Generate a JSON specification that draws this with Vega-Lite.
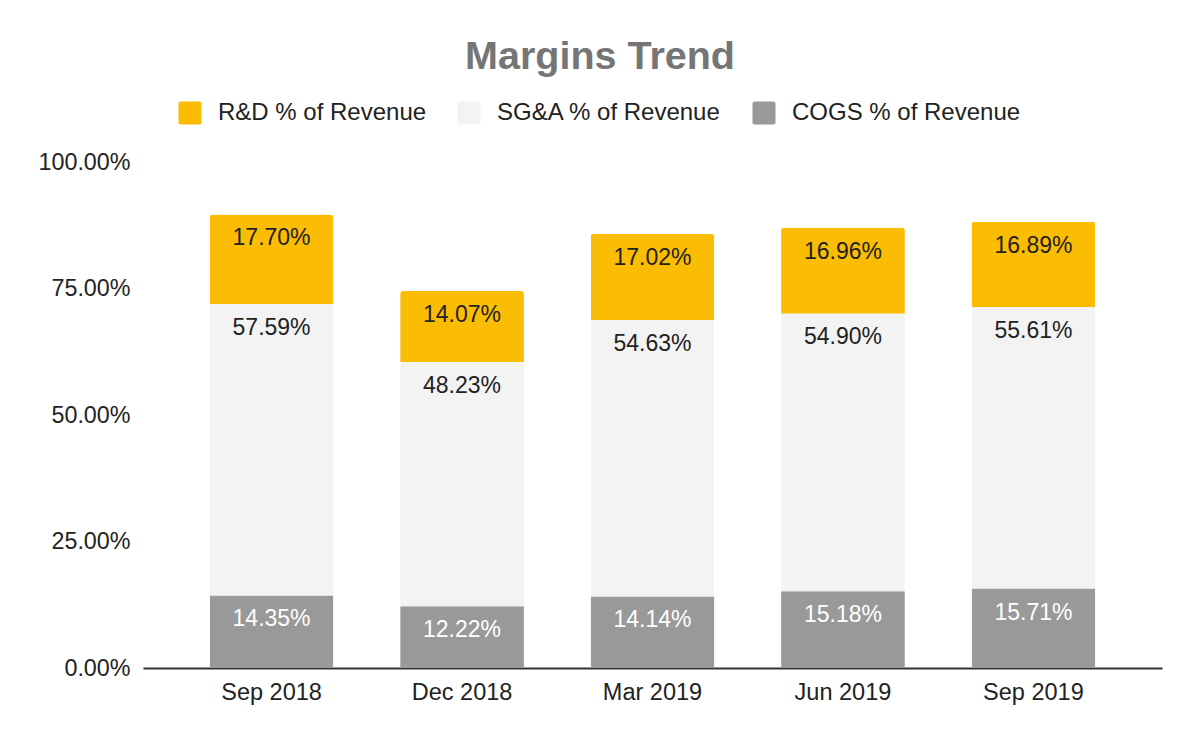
{
  "$schema": "https://vega.github.io/schema/vega-lite/v6.json",
  "width": 1019,
  "height": 506,
  "autosize": "none",
  "padding": {"left": 143, "top": 162, "right": 38, "bottom": 74},
  "background": "#ffffff",
  "title": {
    "text": "Margins Trend",
    "anchor": "middle",
    "frame": "bounds",
    "font": "Liberation Sans",
    "fontSize": 39.5,
    "fontWeight": "bold",
    "color": "#757575",
    "offset": 24
  },
  "data": {
    "values": [
      {"period": "Sep 2018", "series": "COGS % of Revenue", "value": 0.1435},
      {"period": "Sep 2018", "series": "SG&A % of Revenue", "value": 0.5759},
      {"period": "Sep 2018", "series": "R&D % of Revenue", "value": 0.1770},
      {"period": "Dec 2018", "series": "COGS % of Revenue", "value": 0.1222},
      {"period": "Dec 2018", "series": "SG&A % of Revenue", "value": 0.4823},
      {"period": "Dec 2018", "series": "R&D % of Revenue", "value": 0.1407},
      {"period": "Mar 2019", "series": "COGS % of Revenue", "value": 0.1414},
      {"period": "Mar 2019", "series": "SG&A % of Revenue", "value": 0.5463},
      {"period": "Mar 2019", "series": "R&D % of Revenue", "value": 0.1702},
      {"period": "Jun 2019", "series": "COGS % of Revenue", "value": 0.1518},
      {"period": "Jun 2019", "series": "SG&A % of Revenue", "value": 0.5490},
      {"period": "Jun 2019", "series": "R&D % of Revenue", "value": 0.1696},
      {"period": "Sep 2019", "series": "COGS % of Revenue", "value": 0.1571},
      {"period": "Sep 2019", "series": "SG&A % of Revenue", "value": 0.5561},
      {"period": "Sep 2019", "series": "R&D % of Revenue", "value": 0.1689}
    ]
  },
  "transform": [
    {"calculate": "indexof(['COGS % of Revenue','SG&A % of Revenue','R&D % of Revenue'], datum.series)", "as": "stackOrder"}
  ],
  "encoding": {
    "x": {
      "field": "period",
      "type": "ordinal",
      "sort": ["Sep 2018", "Dec 2018", "Mar 2019", "Jun 2019", "Sep 2019"],
      "scale": {"paddingInner": 0.35, "paddingOuter": 0.35},
      "axis": {
        "title": null,
        "labelAngle": 0,
        "ticks": false,
        "grid": false,
        "domainColor": "#333333",
        "domainWidth": 2,
        "labelFont": "Liberation Sans",
        "labelFontSize": 23.5,
        "labelColor": "#222222",
        "labelPadding": 12
      }
    },
    "y": {
      "field": "value",
      "type": "quantitative",
      "stack": "zero",
      "scale": {"domain": [0, 1]},
      "axis": {
        "title": null,
        "format": ".2%",
        "values": [0, 0.25, 0.5, 0.75, 1],
        "domain": false,
        "ticks": false,
        "grid": false,
        "labelFont": "Liberation Sans",
        "labelFontSize": 23.3,
        "labelColor": "#222222",
        "labelPadding": 13
      }
    },
    "order": {"field": "stackOrder", "type": "quantitative"}
  },
  "layer": [
    {
      "mark": {"type": "bar", "cornerRadiusEnd": 3},
      "encoding": {
        "color": {
          "field": "series",
          "type": "nominal",
          "scale": {
            "domain": ["R&D % of Revenue", "SG&A % of Revenue", "COGS % of Revenue"],
            "range": ["#fbbc04", "#f3f3f3", "#999999"]
          },
          "legend": {
            "orient": "none",
            "legendX": 35,
            "legendY": -61,
            "direction": "horizontal",
            "title": null,
            "symbolType": "M -0.82 -1 L 0.82 -1 Q 1 -1 1 -0.82 L 1 0.82 Q 1 1 0.82 1 L -0.82 1 Q -1 1 -1 0.82 L -1 -0.82 Q -1 -1 -0.82 -1 Z",
            "symbolSize": 529,
            "symbolStrokeWidth": 0,
            "symbolOpacity": 1,
            "labelFont": "Liberation Sans",
            "labelFontSize": 24,
            "labelColor": "#222222",
            "labelOffset": 16,
            "labelLimit": 400,
            "columnPadding": 30,
            "padding": 0
          }
        }
      }
    },
    {
      "mark": {"type": "text", "baseline": "middle", "dy": 24, "fontSize": 23, "font": "Liberation Sans"},
      "encoding": {
        "detail": {"field": "series"},
        "text": {"field": "value", "type": "quantitative", "format": ".2%"},
        "color": {
          "condition": {"test": "datum.series === 'COGS % of Revenue'", "value": "#ffffff"},
          "value": "#222222"
        }
      }
    }
  ],
  "config": {
    "view": {"stroke": null}
  }
}
